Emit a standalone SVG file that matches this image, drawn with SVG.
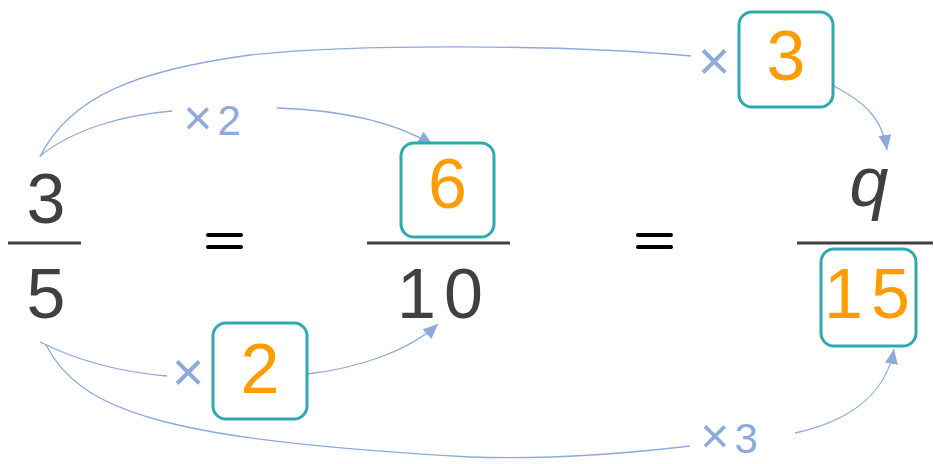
<svg xmlns="http://www.w3.org/2000/svg" width="934" height="464" viewBox="0 0 934 464">
<style>
.num{font-family:"Liberation Sans",Arial,sans-serif;font-size:70px;text-anchor:middle;fill:#404040}
.ans{fill:#FF9C00}
.lbl{font-family:"Liberation Sans",Arial,sans-serif;fill:#8EAADC;text-anchor:middle}
.box{fill:#fff;stroke:#2EAAAE;stroke-width:3}
.bar{stroke:#404040;stroke-width:3}
.eq{stroke:#000;stroke-width:4;stroke-linecap:round}
.con{fill:none;stroke:#8EAADC;stroke-width:1.3}
</style>
<defs>
<marker id="ah" markerUnits="userSpaceOnUse" markerWidth="16" markerHeight="14" refX="15" refY="6.5" orient="auto">
<path d="M0,0 L15,6.5 L0,13 z" fill="#8EAADC"/>
</marker>
</defs>
<g id="connectors">
<path class="con" d="M40,156 C75,128 125,115 172,111"/>
<path class="con" d="M277,108 C340,110 395,122 433,145" marker-end="url(#ah)"/>
<path class="con" d="M40,157 C70,95 140,70 250,55 C350,44 560,44 691,56"/>
<path class="con" d="M834,86 C860,100 882,115 887,150" marker-end="url(#ah)"/>
<path class="con" d="M40,342 C80,362 120,372 167,376"/>
<path class="con" d="M307,374 C360,368 410,350 438,324" marker-end="url(#ah)"/>
<path class="con" d="M46,345 C80,410 160,440 470,457 C560,460 640,452 690,446"/>
<path class="con" d="M795,433 C840,423 885,400 894,349" marker-end="url(#ah)"/>
</g>
<g id="frac1">
<text class="num" x="46" y="223">3</text>
<line class="bar" x1="8" y1="243" x2="81" y2="243"/>
<text class="num" x="46" y="318">5</text>
</g>
<g id="eq1">
<line class="eq" x1="208" y1="235" x2="241" y2="235"/>
<line class="eq" x1="208" y1="247" x2="241" y2="247"/>
</g>
<g id="frac2">
<rect class="box" x="401" y="143" width="93" height="94" rx="13"/>
<text class="num ans" x="447.5" y="208">6</text>
<line class="bar" x1="367" y1="243" x2="510" y2="243"/>
<text class="num" x="444" y="318" letter-spacing="8">10</text>
</g>
<g id="eq2">
<line class="eq" x1="638" y1="235" x2="671" y2="235"/>
<line class="eq" x1="638" y1="247" x2="671" y2="247"/>
</g>
<g id="frac3">
<text class="num" x="869" y="206" font-style="italic">q</text>
<line class="bar" x1="797" y1="243" x2="933" y2="243"/>
<rect class="box" x="821" y="249" width="95" height="97" rx="13"/>
<text class="num ans" x="871" y="318" letter-spacing="8">15</text>
</g>
<g id="mul2top">
<text class="lbl" x="212" y="135" font-size="42"><tspan font-size="50">×</tspan><tspan dx="5">2</tspan></text>
</g>
<g id="mul3top">
<text class="lbl" x="714" y="80" font-size="56">×</text>
<rect class="box" x="739" y="12" width="94" height="95" rx="13"/>
<text class="num ans" x="786" y="80">3</text>
</g>
<g id="mul2bottom">
<text class="lbl" x="188" y="391" font-size="56">×</text>
<rect class="box" x="213" y="323" width="94" height="96" rx="13"/>
<text class="num ans" x="260" y="393">2</text>
</g>
<g id="mul3bottom">
<text class="lbl" x="729" y="453" font-size="42"><tspan font-size="50">×</tspan><tspan dx="5">3</tspan></text>
</g>
</svg>
